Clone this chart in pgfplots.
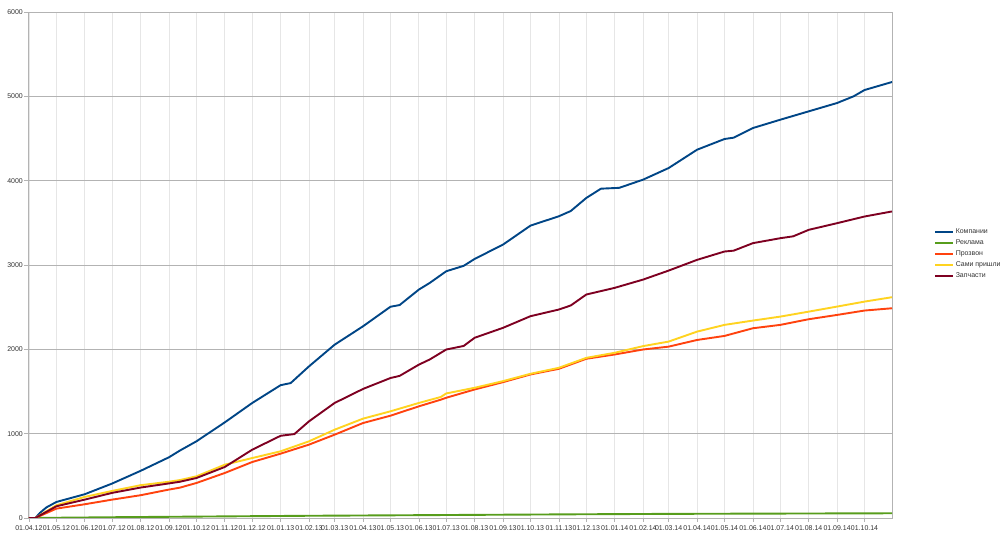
\documentclass[border=0pt]{standalone}
\usepackage{pgfplots}
\pgfplotsset{compat=1.18}
\usepackage{fontspec}
\setmainfont{Liberation Sans}
\definecolor{cBlue}{HTML}{004586}
\definecolor{cGreen}{HTML}{579D1C}
\definecolor{cOrange}{HTML}{FF420E}
\definecolor{cYellow}{HTML}{FFD320}
\definecolor{cMaroon}{HTML}{7E0021}
\definecolor{gridMaj}{HTML}{B3B3B3}
\definecolor{gridMin}{HTML}{E6E6E6}
\definecolor{tickTxt}{HTML}{333333}
\begin{document}
\begin{tikzpicture}
\path[use as bounding box] (-28bp,-24bp) rectangle (975bp,518bp);
\begin{axis}[
  at={(0,0)}, anchor=south west,
  scale only axis, width=864bp, height=506bp,
  xmin=-1, xmax=943, ymin=0, ymax=6000,
  axis line style={draw=gridMaj, line width=0.8bp},
  ytick={0,1000,2000,3000,4000,5000,6000},
  xtick={0,30,61,91,122,153,183,214,244,275,306,334,365,395,426,456,487,518,548,579,609,640,671,699,730,760,791,821,852,883,913},
  xticklabels={01.04.12,01.05.12,01.06.12,01.07.12,01.08.12,01.09.12,01.10.12,01.11.12,01.12.12,01.01.13,01.02.13,01.03.13,01.04.13,01.05.13,01.06.13,01.07.13,01.08.13,01.09.13,01.10.13,01.11.13,01.12.13,01.01.14,01.02.14,01.03.14,01.04.14,01.05.14,01.06.14,01.07.14,01.08.14,01.09.14,01.10.14},
  tick align=outside, major tick length=4bp,
  tick style={draw=gridMaj, line width=0.6bp},
  xtick pos=bottom, ytick pos=left,
  ymajorgrids, xmajorgrids,
  y grid style={draw=gridMaj, line width=0.7bp},
  x grid style={draw=gridMin, line width=0.7bp},
  tick label style={font=\fontsize{7}{8}\selectfont, text=tickTxt},
  xticklabel style={inner sep=1bp, yshift=-2bp},
  yticklabel style={inner sep=1bp},
  /pgf/number format/assume math mode=true,
  /pgf/number format/set thousands separator={},
  legend cell align=left,
  legend style={at={(1.045,0.578)}, anchor=north west, draw=none, fill=none,
    font=\fontsize{7}{8}\selectfont, text=tickTxt, row sep=2.2bp,
    nodes={inner ysep=1.2bp, inner xsep=1.5bp}},
  legend image code/.code={\draw[#1, line width=2.2bp] (0bp,0bp) -- (18bp,0bp);},
  every axis plot/.append style={line width=1.9bp, line join=round},
]
\addplot[cBlue] coordinates {
(0,0) (7,0) (12,60) (19,125) (30,190) (61,282) (91,409) (122,559) (153,720) (165,800)
(183,909) (214,1134) (244,1364) (275,1575) (286,1600) (306,1798) (334,2055) (365,2273)
(395,2505) (405,2525) (426,2708) (438,2788) (456,2926) (475,2990) (487,3072) (518,3242)
(548,3467) (579,3578) (592,3640) (609,3795) (625,3905) (645,3915) (671,4012) (699,4150)
(730,4367) (760,4494) (770,4510) (791,4624) (821,4723) (852,4822) (883,4921) (901,5000)
(913,5075) (943,5170)};
\addlegendentry{Компании}
\addplot[cGreen] coordinates {
(0,0) (7,0) (30,3) (100,10) (200,18) (300,26) (400,32) (500,38) (600,44) (700,49) (800,52) (943,56)};
\addlegendentry{Реклама}
\addplot[cOrange] coordinates {
(0,0) (7,0) (30,111) (61,163) (91,218) (122,270) (153,337) (165,360) (183,415) (214,534)
(244,664) (275,763) (306,870) (334,988) (365,1126) (395,1213) (426,1324) (450,1403)
(456,1426) (487,1524) (518,1611) (548,1702) (579,1769) (609,1888) (640,1939) (671,1998)
(699,2032) (730,2111) (760,2159) (791,2250) (821,2290) (852,2357) (883,2408) (913,2460) (943,2487)};
\addlegendentry{Прозвон}
\addplot[cYellow] coordinates {
(0,0) (7,0) (30,151) (61,250) (91,321) (122,389) (153,430) (165,450) (183,494) (214,632)
(244,711) (275,791) (306,909) (334,1047) (365,1178) (395,1265) (426,1364) (450,1435)
(456,1477) (487,1544) (518,1623) (548,1710) (579,1781) (609,1899) (640,1959) (671,2038)
(699,2092) (730,2210) (760,2290) (791,2341) (821,2388) (852,2447) (883,2507) (913,2566) (943,2618)};
\addlegendentry{Сами пришли}
\addplot[cMaroon] coordinates {
(0,0) (7,0) (30,139) (61,218) (91,298) (122,361) (153,410) (165,430) (183,474) (214,605)
(244,810) (275,975) (290,995) (306,1146) (334,1364) (365,1530) (395,1660) (405,1685)
(426,1818) (438,1880) (456,1998) (475,2040) (487,2137) (518,2255) (548,2393) (579,2472)
(592,2520) (609,2650) (640,2729) (671,2827) (699,2934) (730,3061) (760,3160) (770,3170)
(791,3259) (821,3318) (835,3340) (852,3417) (883,3496) (913,3575) (943,3635)};
\addlegendentry{Запчасти}
\end{axis}
\end{tikzpicture}
\end{document}
